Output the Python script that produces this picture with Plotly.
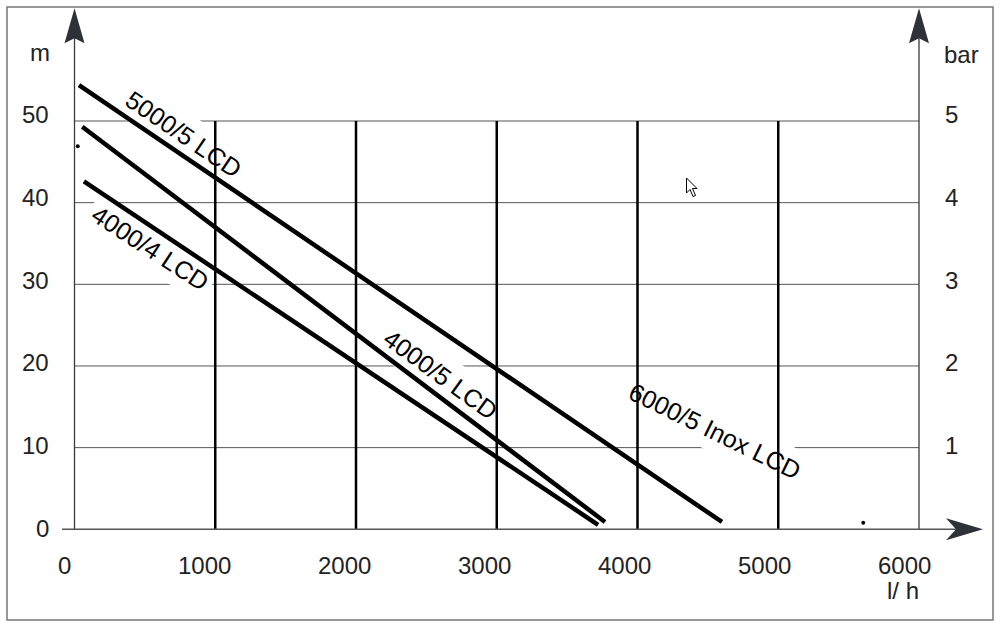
import math
import plotly.graph_objects as go

# ---------------- data ----------------
flow_ticks = [0, 1000, 2000, 3000, 4000, 5000, 6000]      # l/h
head_ticks = [0, 10, 20, 30, 40, 50]                        # m
bar_ticks = [1, 2, 3, 4, 5]                                 # bar

# pump curves (flow l/h, head m)
curve_a_flow = [32, 4600]
curve_a_head = [54.4, 0.9]
curve_b_flow = [55, 3769]
curve_b_head = [49.3, 0.9]
curve_c_flow = [67, 3720]
curve_c_head = [42.6, 0.55]

dots_flow = [23, 5604]
dots_head = [46.9, 0.8]

label_texts = ["5000/5 LCD", "4000/4 LCD", "4000/5 LCD", "6000/5 Inox LCD"]
label_flow = [775, 540, 2597, 4551]
label_head = [48.4, 34.5, 19.0, 12.0]
label_angle = [34, 33, 36, 26]

# ---------------- geometry ----------------
W, H = 1000, 627
X0PX, XS = 74.5, 0.14075      # px of flow 0, px per l/h
Y0PX, YS = 529.3, 8.166       # px of head 0, px per m
xr = [-X0PX / XS, (W - X0PX) / XS]
yr = [-(H - Y0PX) / YS, Y0PX / YS]
Y_TIP = (Y0PX - 8.3) / YS
X_TIP = (983 - X0PX) / XS
X_LEFT = (62 - X0PX) / XS
CUR_X = (686.5 - X0PX) / XS
CUR_Y = (Y0PX - 178) / YS

FONT = "Liberation Sans, Arial, sans-serif"
TXT = "#222222"
FS = 24
FS_LAB = 25

fig = go.Figure()

line_style = dict(color="black", width=4.5)
for fx, hy in [(curve_a_flow, curve_a_head), (curve_b_flow, curve_b_head), (curve_c_flow, curve_c_head)]:
    fig.add_trace(go.Scatter(x=fx, y=hy, mode="lines", line=line_style, hoverinfo="skip", showlegend=False))
fig.add_trace(go.Scatter(x=dots_flow, y=dots_head, mode="markers",
                         marker=dict(color="black", size=4), hoverinfo="skip", showlegend=False))

shapes = []
# horizontal grid lines (below)
for v in head_ticks[1:]:
    shapes.append(dict(type="line", xref="x", yref="y", x0=flow_ticks[0], x1=flow_ticks[-1], y0=v, y1=v,
                       line=dict(color="#555555", width=1), layer="below"))

# white masks behind the curve labels (interrupt horizontal grid only)
cw = {str(d): 0.556 for d in range(10)}
cw.update({"/": 0.278, " ": 0.278, "L": 0.556, "C": 0.722, "D": 0.722, "I": 0.278,
           "n": 0.556, "o": 0.556, "x": 0.5})
for t, fx, hy, a in zip(label_texts, label_flow, label_head, label_angle):
    w = sum(cw.get(c, 0.556) for c in t) * FS_LAB + 10
    h = 41
    th = math.radians(a)
    ux, uy = math.cos(th), math.sin(th)
    nx, ny = -math.sin(th), math.cos(th)
    pts = []
    for sw, sh in [(-1, -1), (1, -1), (1, 1), (-1, 1)]:
        dx = sw * w / 2 * ux + sh * h / 2 * nx
        dy = sw * w / 2 * uy + sh * h / 2 * ny
        pts.append((fx + dx / XS, hy - dy / YS))
    path = "M " + " L ".join(f"{px:.2f},{py:.3f}" for px, py in pts) + " Z"
    shapes.append(dict(type="path", xref="x", yref="y", path=path,
                       fillcolor="white", line=dict(width=0), layer="below"))

# vertical grid lines
for v in flow_ticks[1:-1]:
    shapes.append(dict(type="line", xref="x", yref="y", x0=v, x1=v, y0=head_ticks[0], y1=head_ticks[-1],
                       line=dict(color="black", width=2.5), layer="above"))

# axes
axis_col = "#3a3a3a"
shapes.append(dict(type="line", xref="x", yref="y", x0=flow_ticks[0], x1=flow_ticks[0], y0=0, y1=Y_TIP - 2,
                   line=dict(color=axis_col, width=1.3), layer="above"))
shapes.append(dict(type="line", xref="x", yref="y", x0=flow_ticks[-1], x1=flow_ticks[-1], y0=0, y1=Y_TIP - 2,
                   line=dict(color=axis_col, width=1.3), layer="above"))
shapes.append(dict(type="line", xref="x", yref="y", x0=X_LEFT, x1=X_TIP - 100, y0=0, y1=0,
                   line=dict(color="#555555", width=1.6), layer="above"))
# arrow heads
head_col = "#2e3138"
for xa in [flow_ticks[0], flow_ticks[-1]]:
    shapes.append(dict(type="path", xref="x", yref="y", xsizemode="pixel", ysizemode="pixel",
                       xanchor=xa, yanchor=Y_TIP, path="M0,0 L-10,-35 L0,-30 L10,-35 Z",
                       fillcolor=head_col, line=dict(width=0), layer="above"))
shapes.append(dict(type="path", xref="x", yref="y", xsizemode="pixel", ysizemode="pixel",
                   xanchor=X_TIP, yanchor=0, path="M0,0 L-37,11 L-27,0 L-37,-11 Z",
                   fillcolor=head_col, line=dict(width=0), layer="above"))
# mouse pointer visible in the screenshot
shapes.append(dict(type="path", xref="x", yref="y", xsizemode="pixel", ysizemode="pixel",
                   xanchor=CUR_X, yanchor=CUR_Y,
                   path="M0,0 L0,-15 L3.5,-11.5 L6.5,-18.5 L9,-17.5 L6,-10.5 L10.5,-10.5 Z",
                   fillcolor="white", line=dict(color="black", width=1), layer="above"))
# outer frame
shapes.append(dict(type="rect", xref="paper", yref="paper", x0=7 / W, x1=993 / W,
                   y0=1 - 620 / H, y1=1 - 7 / H, line=dict(color="#777777", width=1.5), layer="above"))

ann = []
tf = dict(family=FONT, size=FS, color=TXT)
for v in head_ticks:
    ann.append(dict(x=0, y=v, xref="x", yref="y", text=str(v), showarrow=False, xanchor="right",
                    yanchor="middle", xshift=-24, yshift=1 + 0.11 * v, font=tf))
for b in bar_ticks:
    ann.append(dict(x=flow_ticks[-1], y=b * 10, xref="x", yref="y", text=str(b), showarrow=False,
                    xanchor="left", yanchor="middle", xshift=24, yshift=1 + 0.11 * b * 10, font=tf))
for v in flow_ticks:
    ann.append(dict(x=v, y=0, xref="x", yref="y", text=str(v), showarrow=False, xanchor="center",
                    yanchor="middle", xshift=-10.5 - 0.0006 * v, yshift=-36, font=tf))
ann.append(dict(x=39.5 / W, y=1 - 52 / H, xref="paper", yref="paper", text="m", showarrow=False,
                xanchor="center", yanchor="middle", font=tf))
ann.append(dict(x=961.5 / W, y=1 - 54 / H, xref="paper", yref="paper", text="bar", showarrow=False,
                xanchor="center", yanchor="middle", font=tf))
ann.append(dict(x=903 / W, y=1 - 590 / H, xref="paper", yref="paper", text="l/ h", showarrow=False,
                xanchor="center", yanchor="middle", font=tf))
for t, fx, hy, a in zip(label_texts, label_flow, label_head, label_angle):
    ann.append(dict(x=fx, y=hy, xref="x", yref="y", text=t, showarrow=False, textangle=a,
                    xanchor="center", yanchor="middle", font=dict(family=FONT, size=FS_LAB, color="black")))

fig.update_layout(
    width=W, height=H, autosize=False,
    margin=dict(l=0, r=0, t=0, b=0, pad=0),
    paper_bgcolor="white", plot_bgcolor="white",
    xaxis=dict(range=xr, visible=False, fixedrange=True),
    yaxis=dict(range=yr, visible=False, fixedrange=True),
    shapes=shapes, annotations=ann, showlegend=False,
)
fig.write_html("out.html", config={"displayModeBar": False},
               post_script="document.body.style.margin='0';document.body.style.padding='0';")
